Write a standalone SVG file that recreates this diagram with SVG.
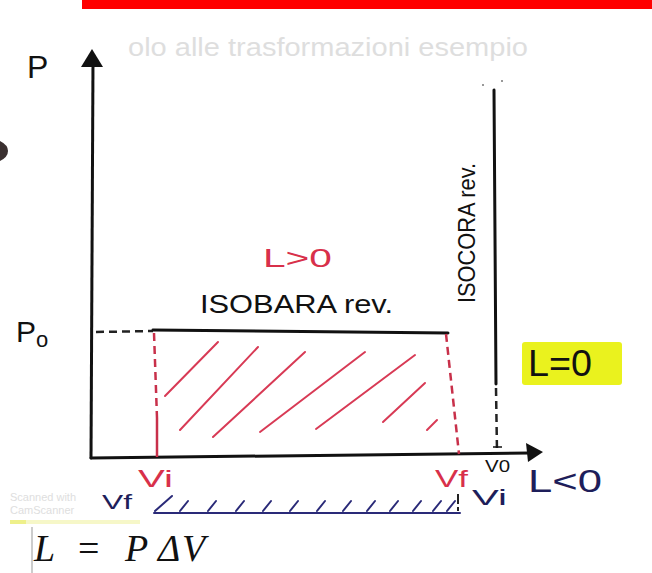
<svg xmlns="http://www.w3.org/2000/svg" width="652" height="573" viewBox="0 0 652 573">
<defs>
<style>
.hand{font-family:"Liberation Sans","DejaVu Sans",sans-serif;fill:#111}
.red{fill:#d8304a}
.navy{fill:#1e1e5a}
.faint{font-family:"Liberation Sans","DejaVu Sans",sans-serif;fill:#dedede}
.axis{stroke:#111;stroke-width:3;fill:none;stroke-linecap:round}
.dashk{stroke:#222;stroke-width:2.5;fill:none;stroke-dasharray:8 5}
.dashr{stroke:#c8304a;stroke-width:2.5;fill:none;stroke-dasharray:8 5}
.hatch{stroke:#d83a55;stroke-width:2;fill:none;stroke-linecap:round}
.blue{stroke:#2a2a78;stroke-width:2;fill:none;stroke-linecap:round;stroke-linejoin:round}
</style>
</defs>
<rect width="652" height="573" fill="#ffffff"/>
<rect x="82" y="0" width="570" height="9" fill="#ff0000"/>
<text class="faint" x="128" y="56" font-size="25" textLength="400" lengthAdjust="spacingAndGlyphs">olo alle trasformazioni esempio</text>
<path d="M0 141 Q8 145 8 151 Q8 157 0 161 Z" fill="#3a3030"/>

<g id="axes">
<path class="axis" d="M91 458 L93 62"/>
<path d="M92 49 L81 67 L103 67 Z" fill="#111"/>
<path class="axis" d="M91 458 L530 453"/>
<path d="M543 452 L526 443 L528 462 Z" fill="#111"/>
<text class="hand" x="27" y="78" font-size="32">P</text>
</g>

<g id="p0-label">
<text class="hand" x="16" y="342" font-size="30">P<tspan font-size="22" dy="5">o</tspan></text>
</g>

<g id="connectors">
<path class="dashk" d="M96 332 L153 331"/>
<path class="axis" d="M153 330 L448 333" stroke-width="2.5"/>
<path class="dashr" d="M154 333 L157 418"/>
<path d="M157 418 L157 457" stroke="#c8304a" stroke-width="2.5"/>
<path class="dashr" d="M446 334 L459 454"/>
<path class="axis" d="M494 90 L496 384" stroke-width="2.5"/>
<path class="dashk" d="M496 388 L497 452"/>
<path d="M493 447 L502 447" stroke="#111" stroke-width="1.5"/>
<circle cx="483" cy="85" r="1" fill="#777"/>
<circle cx="502" cy="81" r="1" fill="#777"/>
</g>

<g id="hatching">
<path class="hatch" d="M165 396 L218 342"/>
<path class="hatch" d="M180 430 L258 347"/>
<path class="hatch" d="M213 437 L305 352"/>
<path class="hatch" d="M260 432 L365 352"/>
<path class="hatch" d="M316 429 L415 355"/>
<path class="hatch" d="M383 422 L425 383"/>
<path class="hatch" d="M427 430 L437 420"/>
</g>

<g id="label-lpos">
<text class="hand red" x="263" y="267" font-size="26" textLength="69" lengthAdjust="spacingAndGlyphs">L&gt;0</text>
</g>
<g id="isobara">
<text class="hand" x="200" y="313" font-size="25" textLength="193" lengthAdjust="spacingAndGlyphs">ISOBARA rev.</text>
</g>
<g id="isocora">
<text class="hand" transform="translate(475,303) rotate(-90)" x="0" y="0" font-size="23" textLength="140" lengthAdjust="spacingAndGlyphs">ISOCORA rev.</text>
</g>
<g id="lzero">
<rect x="522" y="342" width="100" height="43" rx="3" fill="#eaf21e"/>
<text class="hand" x="528" y="376" font-size="36" textLength="64" lengthAdjust="spacingAndGlyphs">L=0</text>
</g>

<g id="volumes">
<text class="hand red" x="138" y="487" font-size="24" textLength="35" lengthAdjust="spacingAndGlyphs">Vi</text>
<text class="hand red" x="435" y="487" font-size="24" textLength="33" lengthAdjust="spacingAndGlyphs">Vf</text>
<text class="hand" x="485" y="472" font-size="16" textLength="25" lengthAdjust="spacingAndGlyphs">V0</text>
<text class="hand navy" x="528" y="492" font-size="32" textLength="74" lengthAdjust="spacingAndGlyphs">L&lt;0</text>
</g>

<g id="compression">
<text class="hand navy" x="102" y="509" font-size="20" textLength="30" lengthAdjust="spacingAndGlyphs">Vf</text>
<path class="blue" d="M154 513 L460 513"/>
<path class="blue" d="M172 496 L155 511"/>
<path class="blue" d="M188 501 L180 511 M216 501 L208 511 M244 501 L236 511 M271 501 L263 511 M298 501 L290 511 M325 501 L317 511 M351 501 L343 511 M375 501 L367 511 M398 501 L390 511 M421 501 L413 511 M441 501 L433 511 M455 501 L447 511"/>
<path d="M458 494 L458 504 M458 507 L458 511" stroke="#222" stroke-width="2"/>
<text class="hand navy" x="472" y="505" font-size="22" textLength="35" lengthAdjust="spacingAndGlyphs">Vi</text>
</g>

<g id="scan-mark">
<text class="faint" x="10" y="501" font-size="11" fill="#c8c8c8">Scanned with</text>
<text class="faint" x="10" y="514" font-size="11" fill="#c8c8c8">CamScanner</text>
<rect x="10" y="520" width="130" height="4" fill="#f6f7c8"/>
<rect x="10" y="520" width="16" height="4" fill="#eef08a"/>
</g>

<g id="formula">
<path d="M32 527 L32 573" stroke="#999" stroke-width="1"/>
<text font-family="'Liberation Serif','DejaVu Serif',serif" font-style="italic" font-size="38" fill="#111" y="561"><tspan x="34">L</tspan><tspan x="78" font-style="normal">=</tspan><tspan x="125">P</tspan><tspan x="158">Δ</tspan><tspan x="182">V</tspan></text>
</g>
</svg>
